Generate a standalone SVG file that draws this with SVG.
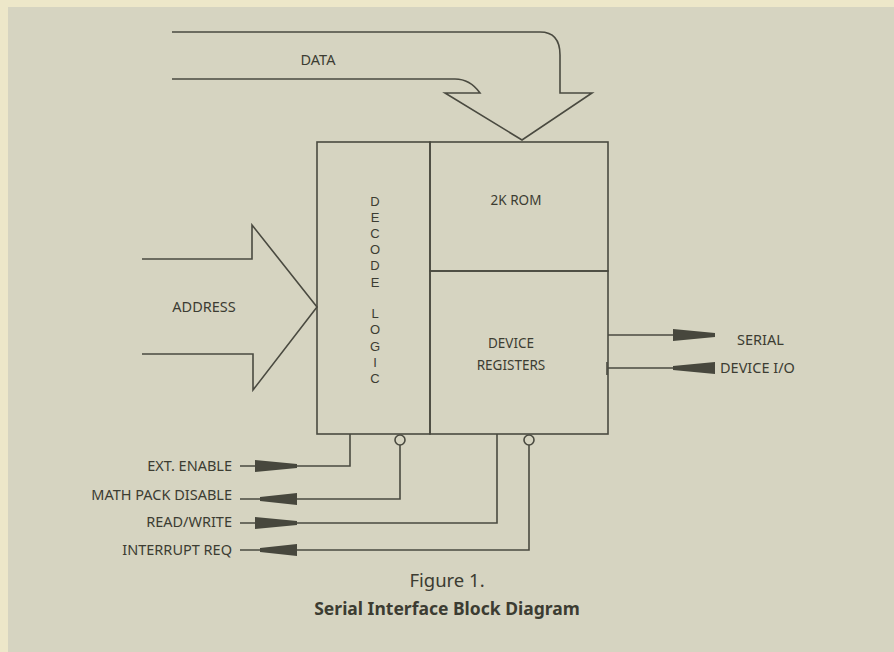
<svg xmlns="http://www.w3.org/2000/svg" width="894" height="652" viewBox="0 0 894 652">
<style>
.ln{fill:none;stroke:#4a4a40;stroke-width:1.6}
.t{font-family:"Noto Sans","Liberation Sans",sans-serif;font-size:14.5px;fill:#3c3c32}
.i{font-family:"Noto Sans","Liberation Sans",sans-serif;font-size:13.5px;fill:#3c3c32}
.v{font-family:"Liberation Sans","Noto Sans",sans-serif;font-size:13px;fill:#3c3c32}
.w{fill:#47473d}
</style>
<rect x="0" y="0" width="894" height="652" fill="#ede7c9"/>
<rect x="8" y="7" width="886" height="645" fill="#d6d4c1"/>
<g id="data-bus">
<path class="ln" d="M172 32 H540 Q560 32 560 55 V93 H592 L522 140 L445 93 H480 Q470 79 455 79 H172"/>
<text class="t" x="318" y="65" text-anchor="middle">DATA</text>
</g>
<g id="address-bus">
<path class="ln" d="M142 259 H252 V225 L317 307 L253 390 V354 H142"/>
<text class="t" x="204" y="312" text-anchor="middle">ADDRESS</text>
</g>
<g id="decode-logic">
<rect class="ln" x="317" y="142" width="113" height="292"/>
<text class="v" x="375" y="206" text-anchor="middle">D</text>
<text class="v" x="375" y="222" text-anchor="middle">E</text>
<text class="v" x="375" y="238" text-anchor="middle">C</text>
<text class="v" x="375" y="254" text-anchor="middle">O</text>
<text class="v" x="375" y="270" text-anchor="middle">D</text>
<text class="v" x="375" y="287" text-anchor="middle">E</text>
<text class="v" x="375" y="318" text-anchor="middle">L</text>
<text class="v" x="375" y="334" text-anchor="middle">O</text>
<text class="v" x="375" y="351" text-anchor="middle">G</text>
<text class="v" x="375" y="367" text-anchor="middle">I</text>
<text class="v" x="375" y="383" text-anchor="middle">C</text>
</g>
<g id="rom">
<rect class="ln" x="430" y="142" width="178" height="129"/>
<text class="i" x="516" y="205" text-anchor="middle">2K ROM</text>
</g>
<g id="device-registers">
<rect class="ln" x="430" y="271" width="178" height="163"/>
<text class="i" x="511" y="348" text-anchor="middle">DEVICE</text>
<text class="i" x="511" y="370" text-anchor="middle">REGISTERS</text>
</g>
<g id="connectors">
<path class="ln" d="M350 434 V466 H240"/>
<path class="w" d="M255 460 L297 464 V468 L255 472 Z"/>
<circle class="ln" cx="400" cy="440" r="5"/>
<path class="ln" d="M400 445 V499 H240"/>
<path class="w" d="M260 497 L297 493 V505 L260 501 Z"/>
<path class="ln" d="M497 434 V523 H240"/>
<path class="w" d="M255 517 L297 521 V525 L255 529 Z"/>
<circle class="ln" cx="529" cy="440" r="5"/>
<path class="ln" d="M529 445 V550 H240"/>
<path class="w" d="M260 548 L297 544 V556 L260 552 Z"/>
<path class="ln" d="M608 335 H673"/>
<path class="w" d="M673 329 L715 333 V337 L673 341 Z"/>
<path class="ln" d="M607 362 V375 M608 368 H673"/>
<path class="w" d="M673 366 L715 362 V374 L673 370 Z"/>
</g>
<g id="labels">
<text class="t" x="232" y="471" text-anchor="end">EXT. ENABLE</text>
<text class="t" x="232" y="500" text-anchor="end">MATH PACK DISABLE</text>
<text class="t" x="232" y="527" text-anchor="end">READ/WRITE</text>
<text class="t" x="232" y="555" text-anchor="end">INTERRUPT REQ</text>
<text class="t" x="737" y="345">SERIAL</text>
<text class="t" x="720" y="373">DEVICE I/O</text>
<text x="447" y="587" text-anchor="middle" style="font-family:'Noto Sans','Liberation Sans',sans-serif;font-size:18.5px;fill:#3c3c32">Figure 1.</text>
<text x="447" y="615" text-anchor="middle" style="font-family:'Noto Sans','Liberation Sans',sans-serif;font-size:17.5px;font-weight:bold;fill:#3c3c32">Serial Interface Block Diagram</text>
</g>
</svg>
